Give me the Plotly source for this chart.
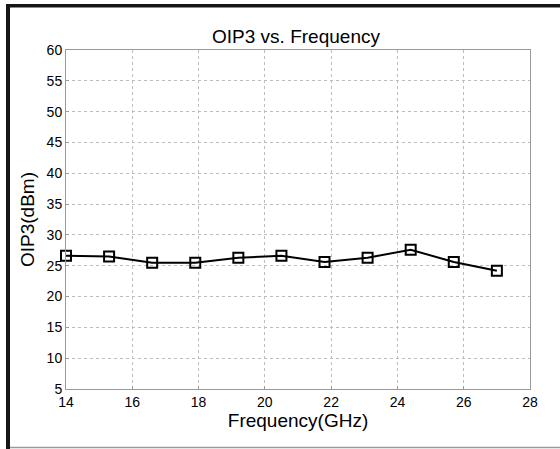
import plotly.graph_objects as go

freq_ghz = [14.0, 15.3, 16.6, 17.9, 19.2, 20.5, 21.8, 23.1, 24.4, 25.7, 27.0]
oip3_dbm = [26.6, 26.5, 25.5, 25.5, 26.3, 26.6, 25.6, 26.3, 27.6, 25.6, 24.2]
x_ticks = [14, 16, 18, 20, 22, 24, 26, 28]
y_ticks = [5, 10, 15, 20, 25, 30, 35, 40, 45, 50, 55, 60]

W, H = 560, 449
L, R, T, B = 66, 30, 50, 60
pw, ph = W - L - R, H - T - B

def px(x):
    return (x - L) / pw

def py(y):
    return (H - B - y) / ph

font = "Liberation Sans, Arial, sans-serif"

fig = go.Figure()
fig.add_trace(go.Scatter(
    x=freq_ghz, y=oip3_dbm, mode="lines+markers",
    line=dict(color="black", width=2),
    marker=dict(symbol="square-open", size=10, color="black", line=dict(width=2, color="black")),
    cliponaxis=False, showlegend=False,
))

axis_common = dict(
    automargin=False,
    showline=True, mirror=True, linecolor="#9a9a9a", linewidth=1,
    showgrid=True, gridcolor="#bdbdbd", griddash="dot", gridwidth=1,
    zeroline=False, ticks="inside", ticklen=3, tickcolor="#9a9a9a",
    tickfont=dict(family=font, size=14, color="black"),
)

white = "white"
fig.update_layout(
    template="none",
    width=W, height=H,
    margin=dict(l=L, r=R, t=T, b=B, autoexpand=False),
    paper_bgcolor="#151515", plot_bgcolor="white",
    title=dict(text="OIP3 vs. Frequency", x=(296) / W, xanchor="center",
               y=1 - 36 / H, yanchor="middle",
               font=dict(family=font, size=19, color="black")),
    xaxis=dict(range=[14, 28], tickvals=x_ticks,
               title=dict(text="Frequency(GHz)", font=dict(family=font, size=19, color="black"), standoff=4),
               **axis_common),
    yaxis=dict(range=[5, 60], tickvals=y_ticks,
               title=dict(text="OIP3(dBm)", font=dict(family=font, size=19, color="black"), standoff=6),
               **axis_common),
    shapes=[
        # white page areas, leaving the dark frame lines of the paper background visible
        dict(type="rect", xref="paper", yref="paper", x0=px(0), x1=px(560), y0=py(0), y1=py(4),
             line=dict(width=0), fillcolor=white, layer="below"),
        dict(type="rect", xref="paper", yref="paper", x0=px(0), x1=px(6), y0=py(0), y1=py(449),
             line=dict(width=0), fillcolor=white, layer="below"),
        dict(type="rect", xref="paper", yref="paper", x0=px(10), x1=px(560), y0=py(7.5), y1=py(449),
             line=dict(width=0), fillcolor=white, layer="below"),
        dict(type="line", xref="paper", yref="paper", x0=px(10), x1=px(560), y0=py(447.5), y1=py(447.5),
             line=dict(color="#9a9a9a", width=1.5), layer="below"),
    ],
)

fig.write_html("out.html", config={"displayModeBar": False},
               post_script="document.body.style.margin='0';document.body.style.overflow='hidden';")
